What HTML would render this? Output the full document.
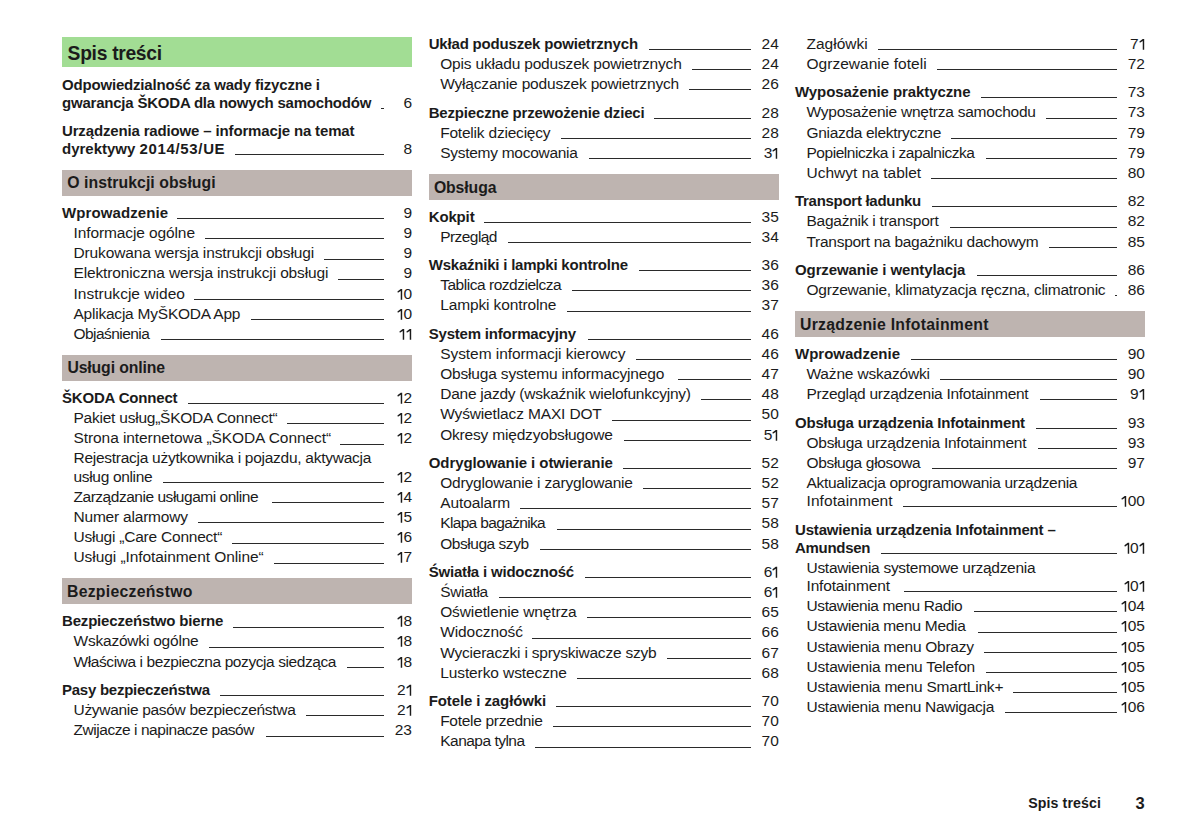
<!DOCTYPE html>
<html><head><meta charset="utf-8"><title>Spis treści</title><style>
html,body{margin:0;padding:0;background:#fff;}
body{width:1191px;height:840px;position:relative;overflow:hidden;font-family:"Liberation Sans",sans-serif;color:#1b1b1b;}
.gbox{position:absolute;background:#a2dd94;}
.box{position:absolute;background:#beb4b0;}
.gt{position:absolute;font-weight:700;font-size:19.3px;line-height:0;white-space:nowrap;}
.bt{position:absolute;font-weight:700;font-size:15.8px;line-height:0;white-space:nowrap;}
.r{position:absolute;display:flex;height:20px;line-height:20px;white-space:nowrap;}
.r.s{font-size:15.5px;font-weight:400;}
.r.h{font-size:15.0px;font-weight:700;}
.t{flex:none;}
.ld{flex:1;align-self:flex-start;margin-left:9.5px;border-bottom:1px solid #2a2a2a;min-width:0;}
.n{flex:none;width:28px;text-align:right;font-size:15.5px;font-weight:400;}
.one{display:inline-block;vertical-align:top;fill:#1b1b1b;}
.ft{position:absolute;font-weight:700;line-height:0;white-space:nowrap;}
</style></head><body>
<div class="gbox" style="left:62px;top:37px;width:350px;height:30px"></div>
<div class="gt" style="left:67.60px;top:54.11px;letter-spacing:-0.306px">Spis treści</div>
<div class="r h" style="left:62px;top:74.60px;width:350px"><span class="t" style="letter-spacing:-0.183px">Odpowiedzialność za wady fizyczne i</span></div>
<div class="r h" style="left:62px;top:92.80px;width:350px"><span class="t" style="letter-spacing:-0.212px">gwarancja ŠKODA dla nowych samochodów</span><span class="ld" style="height:15.20px;margin-left:9.91px"></span><span class="n">6</span></div>
<div class="r h" style="left:62px;top:121.00px;width:350px"><span class="t" style="letter-spacing:-0.152px">Urządzenia radiowe – informacje na temat</span></div>
<div class="r h" style="left:62px;top:139.20px;width:350px"><span class="t">dyrektywy <span style="letter-spacing:0.65px">2014/53/UE</span></span><span class="ld" style="height:15.20px;margin-left:9.94px"></span><span class="n">8</span></div>
<div class="box" style="left:62px;top:169.60px;width:350px;height:26.0px"></div>
<div class="bt" style="left:67.30px;top:183.33px;letter-spacing:0.047px">O instrukcji obsługi</div>
<div class="r h" style="left:62px;top:203.00px;width:350px"><span class="t" style="letter-spacing:0.106px">Wprowadzenie</span><span class="ld" style="height:15.20px;margin-left:9.13px"></span><span class="n">9</span></div>
<div class="r s" style="left:73.5px;top:223.03px;width:338.5px"><span class="t" style="letter-spacing:-0.107px">Informacje ogólne</span><span class="ld" style="height:15.37px;margin-left:9.92px"></span><span class="n">9</span></div>
<div class="r s" style="left:73.5px;top:243.23px;width:338.5px"><span class="t" style="letter-spacing:-0.143px">Drukowana wersja instrukcji obsługi</span><span class="ld" style="height:15.37px;margin-left:10.41px"></span><span class="n">9</span></div>
<div class="r s" style="left:73.5px;top:263.43px;width:338.5px"><span class="t" style="letter-spacing:-0.138px">Elektroniczna wersja instrukcji obsługi</span><span class="ld" style="height:15.37px;margin-left:9.89px"></span><span class="n">9</span></div>
<div class="r s" style="left:73.5px;top:283.63px;width:338.5px"><span class="t" style="letter-spacing:0.018px">Instrukcje wideo</span><span class="ld" style="height:15.37px;margin-left:9.16px"></span><span class="n"><svg class="one" width="6.3" height="20" viewBox="0 0 6.3 20"><path d="M3.75 4.97H5.2V15.87H3.75V6.97L0.9 8.82L0.4 7.47Z"/></svg>0</span></div>
<div class="r s" style="left:73.5px;top:303.83px;width:338.5px"><span class="t" style="letter-spacing:-0.225px">Aplikacja MyŠKODA App</span><span class="ld" style="height:15.37px;margin-left:10.68px"></span><span class="n"><svg class="one" width="6.3" height="20" viewBox="0 0 6.3 20"><path d="M3.75 4.97H5.2V15.87H3.75V6.97L0.9 8.82L0.4 7.47Z"/></svg>0</span></div>
<div class="r s" style="left:73.5px;top:324.03px;width:338.5px"><span class="t" style="letter-spacing:-0.558px">Objaśnienia</span><span class="ld" style="height:15.37px;margin-left:11.49px"></span><span class="n"><svg class="one" width="6.3" height="20" viewBox="0 0 6.3 20"><path d="M3.75 4.97H5.2V15.87H3.75V6.97L0.9 8.82L0.4 7.47Z"/></svg><svg class="one" width="6.3" height="20" viewBox="0 0 6.3 20"><path d="M3.75 4.97H5.2V15.87H3.75V6.97L0.9 8.82L0.4 7.47Z"/></svg></span></div>
<div class="box" style="left:62px;top:354.60px;width:350px;height:26.0px"></div>
<div class="bt" style="left:67.40px;top:368.33px;letter-spacing:-0.128px">Usługi online</div>
<div class="r h" style="left:62px;top:388.00px;width:350px"><span class="t" style="letter-spacing:-0.188px">ŠKODA Connect</span><span class="ld" style="height:15.20px;margin-left:10.66px"></span><span class="n"><svg class="one" width="6.3" height="20" viewBox="0 0 6.3 20"><path d="M3.75 4.80H5.2V15.70H3.75V6.80L0.9 8.65L0.4 7.30Z"/></svg>2</span></div>
<div class="r s" style="left:73.5px;top:408.03px;width:338.5px"><span class="t" style="letter-spacing:-0.232px">Pakiet usług„ŠKODA Connect“</span><span class="ld" style="height:15.37px;margin-left:10.03px"></span><span class="n"><svg class="one" width="6.3" height="20" viewBox="0 0 6.3 20"><path d="M3.75 4.97H5.2V15.87H3.75V6.97L0.9 8.82L0.4 7.47Z"/></svg>2</span></div>
<div class="r s" style="left:73.5px;top:428.23px;width:338.5px"><span class="t" style="letter-spacing:-0.079px">Strona internetowa „ŠKODA Connect“</span><span class="ld" style="height:15.37px;margin-left:9.31px"></span><span class="n"><svg class="one" width="6.3" height="20" viewBox="0 0 6.3 20"><path d="M3.75 4.97H5.2V15.87H3.75V6.97L0.9 8.82L0.4 7.47Z"/></svg>2</span></div>
<div class="r s" style="left:73.5px;top:448.43px;width:338.5px"><span class="t" style="letter-spacing:-0.268px">Rejestracja użytkownika i pojazdu, aktywacja</span></div>
<div class="r s" style="left:73.5px;top:466.63px;width:338.5px"><span class="t" style="letter-spacing:-0.327px">usług online</span><span class="ld" style="height:15.37px;margin-left:10.19px"></span><span class="n"><svg class="one" width="6.3" height="20" viewBox="0 0 6.3 20"><path d="M3.75 4.97H5.2V15.87H3.75V6.97L0.9 8.82L0.4 7.47Z"/></svg>2</span></div>
<div class="r s" style="left:73.5px;top:486.83px;width:338.5px"><span class="t" style="letter-spacing:-0.471px">Zarządzanie usługami online</span><span class="ld" style="height:15.37px;margin-left:14.23px"></span><span class="n"><svg class="one" width="6.3" height="20" viewBox="0 0 6.3 20"><path d="M3.75 4.97H5.2V15.87H3.75V6.97L0.9 8.82L0.4 7.47Z"/></svg>4</span></div>
<div class="r s" style="left:73.5px;top:507.03px;width:338.5px"><span class="t" style="letter-spacing:-0.208px">Numer alarmowy</span><span class="ld" style="height:15.37px;margin-left:10.68px"></span><span class="n"><svg class="one" width="6.3" height="20" viewBox="0 0 6.3 20"><path d="M3.75 4.97H5.2V15.87H3.75V6.97L0.9 8.82L0.4 7.47Z"/></svg>5</span></div>
<div class="r s" style="left:73.5px;top:527.23px;width:338.5px"><span class="t" style="letter-spacing:-0.225px">Usługi „Care Connect“</span><span class="ld" style="height:15.37px;margin-left:10.18px"></span><span class="n"><svg class="one" width="6.3" height="20" viewBox="0 0 6.3 20"><path d="M3.75 4.97H5.2V15.87H3.75V6.97L0.9 8.82L0.4 7.47Z"/></svg>6</span></div>
<div class="r s" style="left:73.5px;top:547.43px;width:338.5px"><span class="t" style="letter-spacing:-0.070px">Usługi „Infotainment Online“</span><span class="ld" style="height:15.37px;margin-left:10.33px"></span><span class="n"><svg class="one" width="6.3" height="20" viewBox="0 0 6.3 20"><path d="M3.75 4.97H5.2V15.87H3.75V6.97L0.9 8.82L0.4 7.47Z"/></svg>7</span></div>
<div class="box" style="left:62px;top:578.00px;width:350px;height:26.0px"></div>
<div class="bt" style="left:67.00px;top:591.73px;letter-spacing:0.256px">Bezpieczeństwo</div>
<div class="r h" style="left:62px;top:611.40px;width:350px"><span class="t" style="letter-spacing:-0.180px">Bezpieczeństwo bierne</span><span class="ld" style="height:15.20px;margin-left:10.15px"></span><span class="n"><svg class="one" width="6.3" height="20" viewBox="0 0 6.3 20"><path d="M3.75 4.80H5.2V15.70H3.75V6.80L0.9 8.65L0.4 7.30Z"/></svg>8</span></div>
<div class="r s" style="left:73.5px;top:631.43px;width:338.5px"><span class="t" style="letter-spacing:-0.210px">Wskazówki ogólne</span><span class="ld" style="height:15.37px;margin-left:10.91px"></span><span class="n"><svg class="one" width="6.3" height="20" viewBox="0 0 6.3 20"><path d="M3.75 4.97H5.2V15.87H3.75V6.97L0.9 8.82L0.4 7.47Z"/></svg>8</span></div>
<div class="r s" style="left:73.5px;top:651.63px;width:338.5px"><span class="t" style="letter-spacing:-0.413px">Właściwa i bezpieczna pozycja siedząca</span><span class="ld" style="height:15.37px;margin-left:11.32px"></span><span class="n"><svg class="one" width="6.3" height="20" viewBox="0 0 6.3 20"><path d="M3.75 4.97H5.2V15.87H3.75V6.97L0.9 8.82L0.4 7.47Z"/></svg>8</span></div>
<div class="r h" style="left:62px;top:680.00px;width:350px"><span class="t" style="letter-spacing:-0.255px">Pasy bezpieczeństwa</span><span class="ld" style="height:15.20px;margin-left:10.57px"></span><span class="n">2<svg class="one" width="6.3" height="20" viewBox="0 0 6.3 20"><path d="M3.75 4.80H5.2V15.70H3.75V6.80L0.9 8.65L0.4 7.30Z"/></svg></span></div>
<div class="r s" style="left:73.5px;top:700.03px;width:338.5px"><span class="t" style="letter-spacing:-0.308px">Używanie pasów bezpieczeństwa</span><span class="ld" style="height:15.37px;margin-left:10.81px"></span><span class="n">2<svg class="one" width="6.3" height="20" viewBox="0 0 6.3 20"><path d="M3.75 4.97H5.2V15.87H3.75V6.97L0.9 8.82L0.4 7.47Z"/></svg></span></div>
<div class="r s" style="left:73.5px;top:720.23px;width:338.5px"><span class="t" style="letter-spacing:-0.446px">Zwijacze i napinacze pasów</span><span class="ld" style="height:15.37px;margin-left:12.21px"></span><span class="n">23</span></div>
<div class="r h" style="left:428.7px;top:33.90px;width:350.09999999999997px"><span class="t" style="letter-spacing:-0.186px">Układ poduszek powietrznych</span><span class="ld" style="height:15.20px;margin-left:10.77px"></span><span class="n">24</span></div>
<div class="r s" style="left:440.2px;top:53.93px;width:338.59999999999997px"><span class="t" style="letter-spacing:-0.177px">Opis układu poduszek powietrznych</span><span class="ld" style="height:15.37px;margin-left:10.02px"></span><span class="n">24</span></div>
<div class="r s" style="left:440.2px;top:74.13px;width:338.59999999999997px"><span class="t" style="letter-spacing:-0.180px">Wyłączanie poduszek powietrznych</span><span class="ld" style="height:15.37px;margin-left:10.37px"></span><span class="n">26</span></div>
<div class="r h" style="left:428.7px;top:102.50px;width:350.09999999999997px"><span class="t" style="letter-spacing:-0.177px">Bezpieczne przewożenie dzieci</span><span class="ld" style="height:15.20px;margin-left:9.52px"></span><span class="n">28</span></div>
<div class="r s" style="left:440.2px;top:122.53px;width:338.59999999999997px"><span class="t" style="letter-spacing:-0.208px">Fotelik dziecięcy</span><span class="ld" style="height:15.37px;margin-left:10.24px"></span><span class="n">28</span></div>
<div class="r s" style="left:440.2px;top:142.73px;width:338.59999999999997px"><span class="t" style="letter-spacing:-0.276px">Systemy mocowania</span><span class="ld" style="height:15.37px;margin-left:11.37px"></span><span class="n">3<svg class="one" width="6.3" height="20" viewBox="0 0 6.3 20"><path d="M3.75 4.97H5.2V15.87H3.75V6.97L0.9 8.82L0.4 7.47Z"/></svg></span></div>
<div class="box" style="left:428.7px;top:174.00px;width:350.09999999999997px;height:26.0px"></div>
<div class="bt" style="left:433.90px;top:187.73px;letter-spacing:-0.105px">Obsługa</div>
<div class="r h" style="left:428.7px;top:206.70px;width:350.09999999999997px"><span class="t" style="letter-spacing:-0.144px">Kokpit</span><span class="ld" style="height:15.20px;margin-left:9.93px"></span><span class="n">35</span></div>
<div class="r s" style="left:440.2px;top:226.73px;width:338.59999999999997px"><span class="t" style="letter-spacing:-0.553px">Przegląd</span><span class="ld" style="height:15.37px;margin-left:10.65px"></span><span class="n">34</span></div>
<div class="r h" style="left:428.7px;top:255.10px;width:350.09999999999997px"><span class="t" style="letter-spacing:-0.213px">Wskaźniki i lampki kontrolne</span><span class="ld" style="height:15.20px;margin-left:10.86px"></span><span class="n">36</span></div>
<div class="r s" style="left:440.2px;top:275.13px;width:338.59999999999997px"><span class="t" style="letter-spacing:-0.475px">Tablica rozdzielcza</span><span class="ld" style="height:15.37px;margin-left:11.12px"></span><span class="n">36</span></div>
<div class="r s" style="left:440.2px;top:295.33px;width:338.59999999999997px"><span class="t" style="letter-spacing:-0.120px">Lampki kontrolne</span><span class="ld" style="height:15.37px;margin-left:11.10px"></span><span class="n">37</span></div>
<div class="r h" style="left:428.7px;top:323.70px;width:350.09999999999997px"><span class="t" style="letter-spacing:-0.200px">System informacyjny</span><span class="ld" style="height:15.20px;margin-left:11.94px"></span><span class="n">46</span></div>
<div class="r s" style="left:440.2px;top:343.73px;width:338.59999999999997px"><span class="t" style="letter-spacing:-0.061px">System informacji kierowcy</span><span class="ld" style="height:15.37px;margin-left:10.90px"></span><span class="n">46</span></div>
<div class="r s" style="left:440.2px;top:363.93px;width:338.59999999999997px"><span class="t" style="letter-spacing:-0.174px">Obsługa systemu informacyjnego</span><span class="ld" style="height:15.37px;margin-left:13.44px"></span><span class="n">47</span></div>
<div class="r s" style="left:440.2px;top:384.13px;width:338.59999999999997px"><span class="t" style="letter-spacing:-0.244px">Dane jazdy (wskaźnik wielofunkcyjny)</span><span class="ld" style="height:15.37px;margin-left:10.57px"></span><span class="n">48</span></div>
<div class="r s" style="left:440.2px;top:404.33px;width:338.59999999999997px"><span class="t" style="letter-spacing:-0.142px">Wyświetlacz MAXI DOT</span><span class="ld" style="height:15.37px;margin-left:10.00px"></span><span class="n">50</span></div>
<div class="r s" style="left:440.2px;top:424.53px;width:338.59999999999997px"><span class="t" style="letter-spacing:-0.188px">Okresy międzyobsługowe</span><span class="ld" style="height:15.37px;margin-left:10.87px"></span><span class="n">5<svg class="one" width="6.3" height="20" viewBox="0 0 6.3 20"><path d="M3.75 4.97H5.2V15.87H3.75V6.97L0.9 8.82L0.4 7.47Z"/></svg></span></div>
<div class="r h" style="left:428.7px;top:452.90px;width:350.09999999999997px"><span class="t" style="letter-spacing:-0.071px">Odryglowanie i otwieranie</span><span class="ld" style="height:15.20px;margin-left:9.80px"></span><span class="n">52</span></div>
<div class="r s" style="left:440.2px;top:472.93px;width:338.59999999999997px"><span class="t" style="letter-spacing:-0.173px">Odryglowanie i zaryglowanie</span><span class="ld" style="height:15.37px;margin-left:9.69px"></span><span class="n">52</span></div>
<div class="r s" style="left:440.2px;top:493.13px;width:338.59999999999997px"><span class="t" style="letter-spacing:-0.090px">Autoalarm</span><span class="ld" style="height:15.37px;margin-left:10.29px"></span><span class="n">57</span></div>
<div class="r s" style="left:440.2px;top:513.33px;width:338.59999999999997px"><span class="t" style="letter-spacing:-0.649px">Klapa bagażnika</span><span class="ld" style="height:15.37px;margin-left:11.63px"></span><span class="n">58</span></div>
<div class="r s" style="left:440.2px;top:533.53px;width:338.59999999999997px"><span class="t" style="letter-spacing:-0.458px">Obsługa szyb</span><span class="ld" style="height:15.37px;margin-left:10.90px"></span><span class="n">58</span></div>
<div class="r h" style="left:428.7px;top:561.90px;width:350.09999999999997px"><span class="t" style="letter-spacing:-0.194px">Światła i widoczność</span><span class="ld" style="height:15.20px;margin-left:10.51px"></span><span class="n">6<svg class="one" width="6.3" height="20" viewBox="0 0 6.3 20"><path d="M3.75 4.80H5.2V15.70H3.75V6.80L0.9 8.65L0.4 7.30Z"/></svg></span></div>
<div class="r s" style="left:440.2px;top:581.93px;width:338.59999999999997px"><span class="t" style="letter-spacing:-0.330px">Światła</span><span class="ld" style="height:15.37px;margin-left:10.80px"></span><span class="n">6<svg class="one" width="6.3" height="20" viewBox="0 0 6.3 20"><path d="M3.75 4.97H5.2V15.87H3.75V6.97L0.9 8.82L0.4 7.47Z"/></svg></span></div>
<div class="r s" style="left:440.2px;top:602.13px;width:338.59999999999997px"><span class="t" style="letter-spacing:-0.120px">Oświetlenie wnętrza</span><span class="ld" style="height:15.37px;margin-left:10.77px"></span><span class="n">65</span></div>
<div class="r s" style="left:440.2px;top:622.33px;width:338.59999999999997px"><span class="t" style="letter-spacing:-0.090px">Widoczność</span><span class="ld" style="height:15.37px;margin-left:9.55px"></span><span class="n">66</span></div>
<div class="r s" style="left:440.2px;top:642.53px;width:338.59999999999997px"><span class="t" style="letter-spacing:-0.216px">Wycieraczki i spryskiwacze szyb</span><span class="ld" style="height:15.37px;margin-left:10.11px"></span><span class="n">67</span></div>
<div class="r s" style="left:440.2px;top:662.73px;width:338.59999999999997px"><span class="t" style="letter-spacing:-0.101px">Lusterko wsteczne</span><span class="ld" style="height:15.37px;margin-left:10.36px"></span><span class="n">68</span></div>
<div class="r h" style="left:428.7px;top:691.10px;width:350.09999999999997px"><span class="t" style="letter-spacing:-0.101px">Fotele i zagłówki</span><span class="ld" style="height:15.20px;margin-left:9.41px"></span><span class="n">70</span></div>
<div class="r s" style="left:440.2px;top:711.13px;width:338.59999999999997px"><span class="t" style="letter-spacing:-0.296px">Fotele przednie</span><span class="ld" style="height:15.37px;margin-left:10.81px"></span><span class="n">70</span></div>
<div class="r s" style="left:440.2px;top:731.33px;width:338.59999999999997px"><span class="t" style="letter-spacing:-0.507px">Kanapa tylna</span><span class="ld" style="height:15.37px;margin-left:10.59px"></span><span class="n">70</span></div>
<div class="r s" style="left:806.5px;top:33.73px;width:338.5px"><span class="t">Zagłówki</span><span class="ld" style="height:15.37px;margin-left:10.05px"></span><span class="n">7<svg class="one" width="6.3" height="20" viewBox="0 0 6.3 20"><path d="M3.75 4.97H5.2V15.87H3.75V6.97L0.9 8.82L0.4 7.47Z"/></svg></span></div>
<div class="r s" style="left:806.5px;top:53.93px;width:338.5px"><span class="t" style="letter-spacing:0.022px">Ogrzewanie foteli</span><span class="ld" style="height:15.37px;margin-left:9.93px"></span><span class="n">72</span></div>
<div class="r h" style="left:795px;top:82.30px;width:350px"><span class="t" style="letter-spacing:-0.086px">Wyposażenie praktyczne</span><span class="ld" style="height:15.20px;margin-left:10.91px"></span><span class="n">73</span></div>
<div class="r s" style="left:806.5px;top:102.33px;width:338.5px"><span class="t" style="letter-spacing:-0.231px">Wyposażenie wnętrza samochodu</span><span class="ld" style="height:15.37px;margin-left:9.79px"></span><span class="n">73</span></div>
<div class="r s" style="left:806.5px;top:122.53px;width:338.5px"><span class="t" style="letter-spacing:-0.315px">Gniazda elektryczne</span><span class="ld" style="height:15.37px;margin-left:10.48px"></span><span class="n">79</span></div>
<div class="r s" style="left:806.5px;top:142.73px;width:338.5px"><span class="t" style="letter-spacing:-0.468px">Popielniczka i zapalniczka</span><span class="ld" style="height:15.37px;margin-left:11.91px"></span><span class="n">79</span></div>
<div class="r s" style="left:806.5px;top:162.93px;width:338.5px"><span class="t" style="letter-spacing:0.006px">Uchwyt na tablet</span><span class="ld" style="height:15.37px;margin-left:10.12px"></span><span class="n">80</span></div>
<div class="r h" style="left:795px;top:191.30px;width:350px"><span class="t" style="letter-spacing:-0.287px">Transport ładunku</span><span class="ld" style="height:15.20px;margin-left:10.82px"></span><span class="n">82</span></div>
<div class="r s" style="left:806.5px;top:211.33px;width:338.5px"><span class="t" style="letter-spacing:-0.246px">Bagażnik i transport</span><span class="ld" style="height:15.37px;margin-left:11.35px"></span><span class="n">82</span></div>
<div class="r s" style="left:806.5px;top:231.53px;width:338.5px"><span class="t" style="letter-spacing:-0.282px">Transport na bagażniku dachowym</span><span class="ld" style="height:15.37px;margin-left:10.23px"></span><span class="n">85</span></div>
<div class="r h" style="left:795px;top:259.90px;width:350px"><span class="t" style="letter-spacing:-0.099px">Ogrzewanie i wentylacja</span><span class="ld" style="height:15.20px;margin-left:11.41px"></span><span class="n">86</span></div>
<div class="r s" style="left:806.5px;top:279.93px;width:338.5px"><span class="t" style="letter-spacing:-0.236px">Ogrzewanie, klimatyzacja ręczna, climatronic</span><span class="ld" style="height:15.37px;margin-left:9.80px"></span><span class="n">86</span></div>
<div class="box" style="left:795px;top:311.20px;width:350px;height:26.0px"></div>
<div class="bt" style="left:800.00px;top:324.93px;letter-spacing:0.266px">Urządzenie Infotainment</div>
<div class="r h" style="left:795px;top:343.90px;width:350px"><span class="t">Wprowadzenie</span><span class="ld" style="height:15.20px;margin-left:10.60px"></span><span class="n">90</span></div>
<div class="r s" style="left:806.5px;top:363.93px;width:338.5px"><span class="t" style="letter-spacing:-0.180px">Ważne wskazówki</span><span class="ld" style="height:15.37px;margin-left:10.35px"></span><span class="n">90</span></div>
<div class="r s" style="left:806.5px;top:384.13px;width:338.5px"><span class="t" style="letter-spacing:-0.282px">Przegląd urządzenia Infotainment</span><span class="ld" style="height:15.37px;margin-left:11.18px"></span><span class="n">9<svg class="one" width="6.3" height="20" viewBox="0 0 6.3 20"><path d="M3.75 4.97H5.2V15.87H3.75V6.97L0.9 8.82L0.4 7.47Z"/></svg></span></div>
<div class="r h" style="left:795px;top:412.50px;width:350px"><span class="t" style="letter-spacing:-0.192px">Obsługa urządzenia Infotainment</span><span class="ld" style="height:15.20px;margin-left:10.64px"></span><span class="n">93</span></div>
<div class="r s" style="left:806.5px;top:432.53px;width:338.5px"><span class="t" style="letter-spacing:-0.249px">Obsługa urządzenia Infotainment</span><span class="ld" style="height:15.37px;margin-left:11.27px"></span><span class="n">93</span></div>
<div class="r s" style="left:806.5px;top:452.73px;width:338.5px"><span class="t" style="letter-spacing:-0.335px">Obsługa głosowa</span><span class="ld" style="height:15.37px;margin-left:11.14px"></span><span class="n">97</span></div>
<div class="r s" style="left:806.5px;top:472.93px;width:338.5px"><span class="t" style="letter-spacing:-0.314px">Aktualizacja oprogramowania urządzenia</span></div>
<div class="r s" style="left:806.5px;top:491.13px;width:338.5px"><span class="t" style="letter-spacing:0.073px">Infotainment</span><span class="ld" style="height:15.37px;margin-left:10.62px"></span><span class="n"><svg class="one" width="6.3" height="20" viewBox="0 0 6.3 20"><path d="M3.75 4.97H5.2V15.87H3.75V6.97L0.9 8.82L0.4 7.47Z"/></svg>00</span></div>
<div class="r h" style="left:795px;top:519.50px;width:350px"><span class="t" style="letter-spacing:-0.170px">Ustawienia urządzenia Infotainment –</span></div>
<div class="r h" style="left:795px;top:537.70px;width:350px"><span class="t" style="letter-spacing:-0.283px">Amundsen</span><span class="ld" style="height:15.20px;margin-left:10.56px"></span><span class="n"><svg class="one" width="6.3" height="20" viewBox="0 0 6.3 20"><path d="M3.75 4.80H5.2V15.70H3.75V6.80L0.9 8.65L0.4 7.30Z"/></svg>0<svg class="one" width="6.3" height="20" viewBox="0 0 6.3 20"><path d="M3.75 4.80H5.2V15.70H3.75V6.80L0.9 8.65L0.4 7.30Z"/></svg></span></div>
<div class="r s" style="left:806.5px;top:557.73px;width:338.5px"><span class="t" style="letter-spacing:-0.291px">Ustawienia systemowe urządzenia</span></div>
<div class="r s" style="left:806.5px;top:575.93px;width:338.5px"><span class="t" style="letter-spacing:-0.164px">Infotainment</span><span class="ld" style="height:15.37px;margin-left:13.67px"></span><span class="n"><svg class="one" width="6.3" height="20" viewBox="0 0 6.3 20"><path d="M3.75 4.97H5.2V15.87H3.75V6.97L0.9 8.82L0.4 7.47Z"/></svg>0<svg class="one" width="6.3" height="20" viewBox="0 0 6.3 20"><path d="M3.75 4.97H5.2V15.87H3.75V6.97L0.9 8.82L0.4 7.47Z"/></svg></span></div>
<div class="r s" style="left:806.5px;top:596.13px;width:338.5px"><span class="t" style="letter-spacing:-0.378px">Ustawienia menu Radio</span><span class="ld" style="height:15.37px;margin-left:11.38px"></span><span class="n"><svg class="one" width="6.3" height="20" viewBox="0 0 6.3 20"><path d="M3.75 4.97H5.2V15.87H3.75V6.97L0.9 8.82L0.4 7.47Z"/></svg>04</span></div>
<div class="r s" style="left:806.5px;top:616.33px;width:338.5px"><span class="t" style="letter-spacing:-0.306px">Ustawienia menu Media</span><span class="ld" style="height:15.37px;margin-left:12.26px"></span><span class="n"><svg class="one" width="6.3" height="20" viewBox="0 0 6.3 20"><path d="M3.75 4.97H5.2V15.87H3.75V6.97L0.9 8.82L0.4 7.47Z"/></svg>05</span></div>
<div class="r s" style="left:806.5px;top:636.53px;width:338.5px"><span class="t" style="letter-spacing:-0.274px">Ustawienia menu Obrazy</span><span class="ld" style="height:15.37px;margin-left:10.84px"></span><span class="n"><svg class="one" width="6.3" height="20" viewBox="0 0 6.3 20"><path d="M3.75 4.97H5.2V15.87H3.75V6.97L0.9 8.82L0.4 7.47Z"/></svg>05</span></div>
<div class="r s" style="left:806.5px;top:656.73px;width:338.5px"><span class="t" style="letter-spacing:-0.192px">Ustawienia menu Telefon</span><span class="ld" style="height:15.37px;margin-left:10.80px"></span><span class="n"><svg class="one" width="6.3" height="20" viewBox="0 0 6.3 20"><path d="M3.75 4.97H5.2V15.87H3.75V6.97L0.9 8.82L0.4 7.47Z"/></svg>05</span></div>
<div class="r s" style="left:806.5px;top:676.93px;width:338.5px"><span class="t" style="letter-spacing:-0.202px">Ustawienia menu SmartLink+</span><span class="ld" style="height:15.37px;margin-left:10.08px"></span><span class="n"><svg class="one" width="6.3" height="20" viewBox="0 0 6.3 20"><path d="M3.75 4.97H5.2V15.87H3.75V6.97L0.9 8.82L0.4 7.47Z"/></svg>05</span></div>
<div class="r s" style="left:806.5px;top:697.13px;width:338.5px"><span class="t" style="letter-spacing:-0.289px">Ustawienia menu Nawigacja</span><span class="ld" style="height:15.37px;margin-left:11.30px"></span><span class="n"><svg class="one" width="6.3" height="20" viewBox="0 0 6.3 20"><path d="M3.75 4.97H5.2V15.87H3.75V6.97L0.9 8.82L0.4 7.47Z"/></svg>06</span></div>
<div class="ft" style="left:1028.3px;top:803.48px;font-size:14.2px;letter-spacing:0.08px">Spis treści</div><div class="ft" style="left:1135.5px;top:802.68px;font-size:16.5px">3</div>
</body></html>
